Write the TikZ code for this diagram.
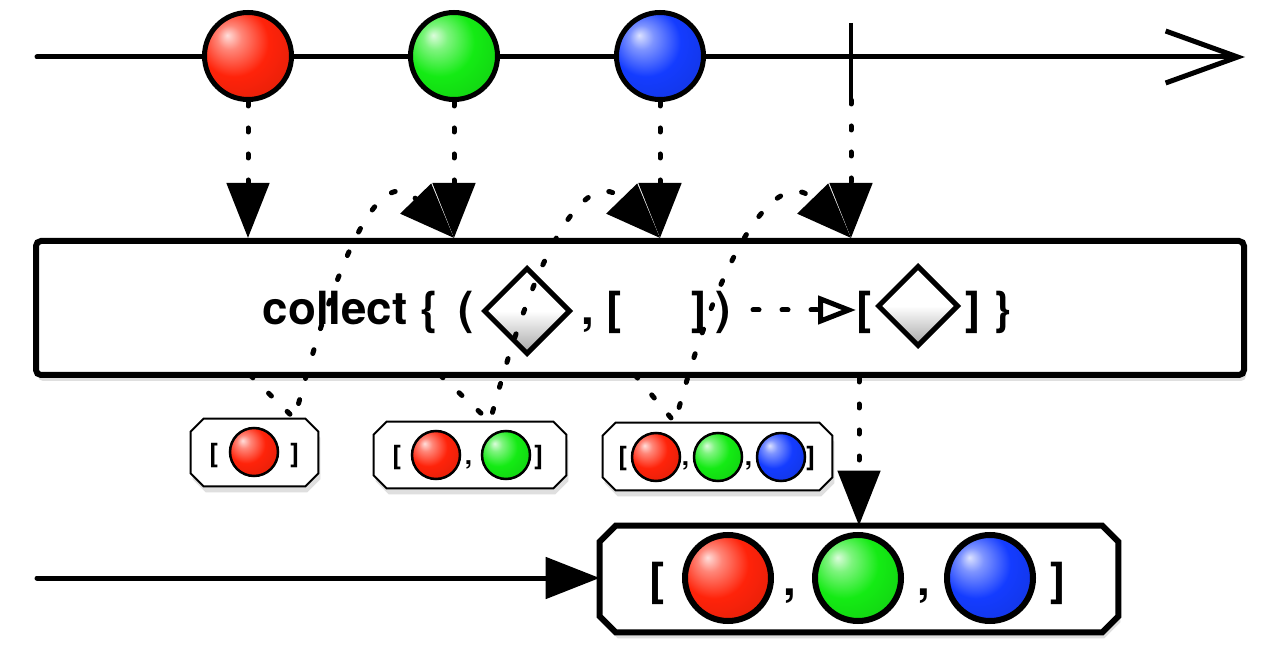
\documentclass[tikz,border=0pt]{standalone}
\usepackage{fontspec}
\setmainfont{TeX Gyre Heros}
\usetikzlibrary{arrows.meta,shapes.geometric,shadows}
\definecolor{marbleRed}{RGB}{255,35,10}
\definecolor{marbleGreen}{RGB}{20,235,20}
\definecolor{marbleBlue}{RGB}{20,60,255}
\makeatletter
\pgfdeclareradialshading[tikz@ball]{glossy}{\pgfpoint{-12bp}{12bp}}{color(0bp)=(tikz@ball!15!white); color(7bp)=(tikz@ball!55!white); color(20bp)=(tikz@ball); color(42bp)=(tikz@ball!85!black); color(62bp)=(tikz@ball!45!black)}
\makeatother

\begin{document}
\begin{tikzpicture}[
		marble/.style={circle, draw, line width=0.1cm, minimum size=1.74cm, inner sep=0pt},
		smallball/.style={circle, draw, line width=0.05cm, minimum size=0.96cm, inner sep=0pt},
		bigball/.style={circle, draw, line width=0.12cm, minimum size=1.72cm, inner sep=0pt},
		gem/.style={diamond, draw, line width=0.1cm, inner sep=0pt, top color=white, bottom color=black!35, middle color=white},
		optext/.style={anchor=base west, inner sep=0pt, font=\fontsize{26}{30}\selectfont\bfseries},
		acctext/.style={anchor=base west, inner sep=0pt, font=\fontsize{15}{18}\selectfont\bfseries},
		softshadow/.style={drop shadow={opacity=0.25, shadow xshift=0.04cm, shadow yshift=-0.12cm}},
		opbox/.style={draw, line width=0.12cm, rounded corners=0.1cm, fill=white, softshadow, minimum width=24.16cm, minimum height=2.68cm},
		slot/.style={rectangle, inner sep=0pt},
		accframe/.style={line width=0.04cm, fill=white, softshadow},
		finframe/.style={line width=0.12cm, fill=white, softshadow},
		timeline/.style={line width=0.1cm, line cap=round, -{Straight Barb[length=1.44cm, width=1.04cm]}},
		outline/.style={line width=0.1cm, line cap=round, -{Triangle[length=1.08cm, width=0.82cm]}},
		tickline/.style={line width=0.07cm},
		dotarrow/.style={line width=0.1cm, line cap=round, dash pattern=on 0.08cm off 0.44cm, -{Triangle[length=1.1cm, width=0.84cm]}},
		fnarrow/.style={line width=0.1cm, line cap=round, dash pattern=on 0.12cm off 0.46cm, -{Triangle[open, length=0.76cm, width=0.56cm]}}
	]
	\path[fill=white, use as bounding box] (0,0) rectangle (25.6,-13.2);
	\coordinate (src0) at (0.74,-1.14);
	\coordinate (src1) at (24.9,-1.14);
	\draw[timeline] (src0) -- (src1);
	\coordinate (donetop) at (17.02,-0.46);
	\coordinate (done) at (17.02,-2.0);
	\draw[tickline] (donetop) -- (done);
	\node[marble, ball color=marbleRed, shading=glossy] (m1) at (4.96,-1.12) {};
	\node[marble, ball color=marbleGreen, shading=glossy] (m2) at (9.08,-1.12) {};
	\node[marble, ball color=marbleBlue, shading=glossy] (m3) at (13.2,-1.12) {};
	\node[opbox] (op) at (12.8,-6.16) {};
	\node[optext] (t1) at (5.25,-6.5) {collect \{};
	\node[optext] (t1b) at (9.17,-6.5) {(};
	\node[gem, minimum width=1.74cm, minimum height=1.74cm] (g1) at (10.54,-6.22) {};
	\node[optext] (t2) at (11.62,-6.5) {, [};
	\node[optext] (t3) at (13.82,-6.5) {]};
	\node[optext] (t4) at (14.3,-6.5) {)};
	\coordinate (f0) at (15.06,-6.2);
	\coordinate (f1) at (17.12,-6.2);
	\draw[fnarrow] (f0) -- (f1);
	\node[optext] (t5) at (17.12,-6.5) {[};
	\node[gem, minimum width=1.62cm, minimum height=1.62cm] (g2) at (18.36,-6.12) {};
	\node[optext] (t6) at (19.3,-6.5) {] \}};
	\draw[dotarrow] (m1) -- (op.north -| m1);
	\draw[dotarrow] (m2) -- (op.north -| m2);
	\draw[dotarrow] (m3) -- (op.north -| m3);
	\draw[dotarrow] (done) -- (op.north -| done);
	\node[slot, minimum width=2.54cm, minimum height=1.34cm] (acc1) at (5.09,-9.05) {};
	\node[slot, minimum width=3.84cm, minimum height=1.32cm] (acc2) at (9.4,-9.1) {};
	\node[slot, minimum width=4.58cm, minimum height=1.34cm] (acc3) at (14.35,-9.13) {};
	\foreach \b in {acc1,acc2,acc3}
		\draw[accframe] ([xshift=0.26cm]\b.north west) -- ([xshift=-0.26cm]\b.north east) -- ([yshift=-0.26cm]\b.north east) -- ([yshift=0.26cm]\b.south east) -- ([xshift=-0.26cm]\b.south east) -- ([xshift=0.26cm]\b.south west) -- ([yshift=0.26cm]\b.south west) -- ([yshift=-0.26cm]\b.north west) -- cycle;
	\node[smallball, ball color=marbleRed, shading=glossy] (a1r) at (5.08,-9.04) {};
	\node[acctext] (a1l) at (4.18,-9.24) {[};
	\node[acctext] (a1e) at (5.8,-9.24) {]};
	\node[smallball, ball color=marbleRed, shading=glossy] (a2r) at (8.72,-9.1) {};
	\node[smallball, ball color=marbleGreen, shading=glossy] (a2g) at (10.12,-9.1) {};
	\node[acctext] (a2l) at (7.84,-9.29) {[};
	\node[acctext] (a2c) at (9.29,-9.29) {,};
	\node[acctext] (a2e) at (10.68,-9.29) {]};
	\node[smallball, ball color=marbleRed, shading=glossy] (a3r) at (13.12,-9.14) {};
	\node[smallball, ball color=marbleGreen, shading=glossy] (a3g) at (14.36,-9.14) {};
	\node[smallball, ball color=marbleBlue, shading=glossy] (a3b) at (15.62,-9.14) {};
	\node[acctext] (a3l) at (12.36,-9.32) {[};
	\node[acctext] (a3c) at (13.63,-9.32) {,};
	\node[acctext] (a3d) at (14.89,-9.32) {,};
	\node[acctext] (a3e) at (16.12,-9.32) {]};
	\coordinate (s1) at (5.0,-7.5);
	\coordinate (s2) at (8.8,-7.5);
	\coordinate (s3) at (12.7,-7.5);
	\draw[dotarrow] (s1) -- ([xshift=0.8cm]acc1.north) .. controls +(1.0,3.78) and +(-1.4,1.44) .. (op.north -| m2);
	\draw[dotarrow] (s2) -- ([xshift=0.4cm]acc2.north) .. controls +(1.0,3.78) and +(-1.4,1.44) .. (op.north -| m3);
	\draw[dotarrow] (s3) -- ([xshift=-0.85cm]acc3.north) .. controls +(1.0,3.78) and +(-1.4,1.44) .. (op.north -| done);
	\node[slot, minimum width=10.36cm, minimum height=2.12cm] (fin) at (17.18,-11.58) {};
	\draw[finframe] ([xshift=0.32cm]fin.north west) -- ([xshift=-0.32cm]fin.north east) -- ([yshift=-0.32cm]fin.north east) -- ([yshift=0.32cm]fin.south east) -- ([xshift=-0.32cm]fin.south east) -- ([xshift=0.32cm]fin.south west) -- ([yshift=0.32cm]fin.south west) -- ([yshift=-0.32cm]fin.north west) -- cycle;
	\node[bigball, ball color=marbleRed, shading=glossy] (fr) at (14.56,-11.56) {};
	\node[bigball, ball color=marbleGreen, shading=glossy] (fg) at (17.16,-11.56) {};
	\node[bigball, ball color=marbleBlue, shading=glossy] (fb) at (19.8,-11.56) {};
	\node[optext] (fl) at (12.98,-11.9) {[};
	\node[optext] (fc1) at (15.66,-11.9) {,};
	\node[optext] (fc2) at (18.34,-11.9) {,};
	\node[optext] (fe) at (21.0,-11.9) {]};
	\coordinate (out) at (0.74,-11.56);
	\draw[outline] (out) -- (out -| fin.west);
	\draw[dotarrow] (op.south -| fin.north) -- (fin.north);
\end{tikzpicture}
\end{document}
